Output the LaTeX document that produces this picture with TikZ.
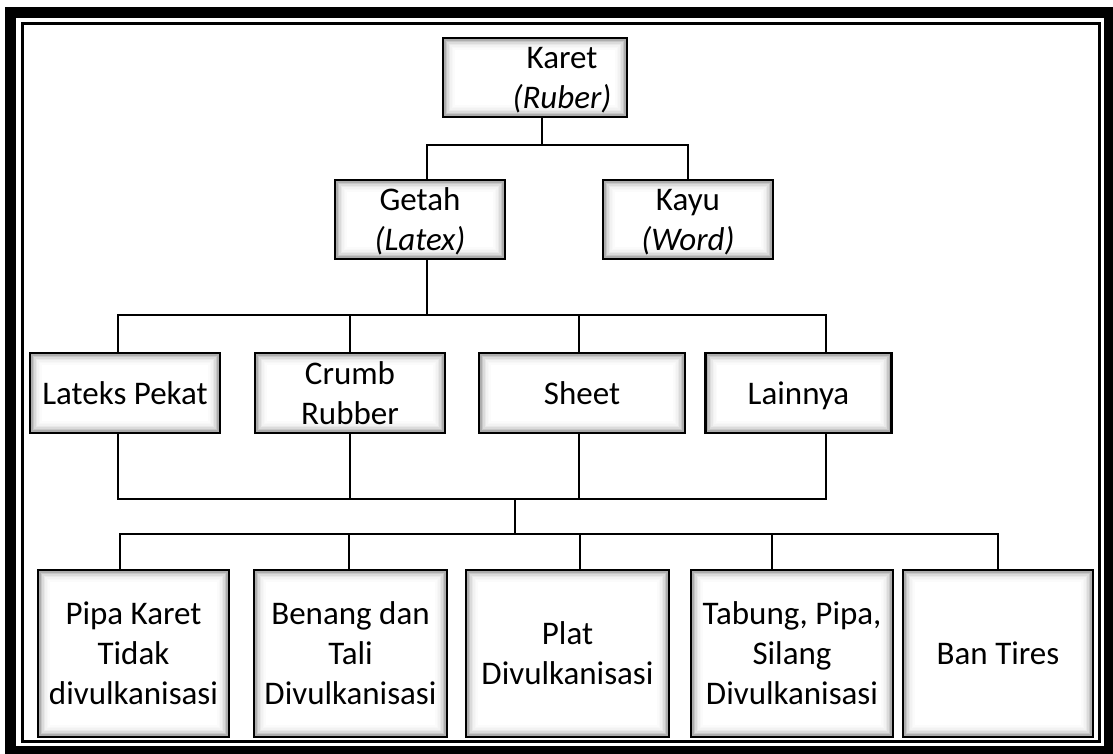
\documentclass[tikz,border=0pt]{standalone}
\usepackage{fontspec}
\setmainfont{Carlito}
\begin{document}
\begin{tikzpicture}[x=1pt,y=-1pt,
  wire/.style={line width=2pt},
  sz/.style 2 args={minimum width=#1pt, minimum height=#2pt},
  box/.style={draw, line width=2.6pt, fill=white, inner sep=0pt, align=center,
    text depth=0pt, font=\fontsize{33}{40}\selectfont,
    path picture={
      \foreach \i/\o in {1/0.32,2/0.22,3/0.14,4/0.09,5/0.05,6/0.03,7/0.015}{
        \draw[line width=1.5pt, draw opacity=\o]
          ([shift={(0.6pt+\i*1.5pt,-0.6pt-\i*1.5pt)}]path picture bounding box.north west)
          rectangle
          ([shift={(-0.6pt-\i*1.5pt,0.6pt+\i*1.5pt)}]path picture bounding box.south east);
      }
    }}
]
\useasboundingbox (0,0) rectangle (1113,753);

% double frame
\draw[line width=11pt] (10.5,12) rectangle (1109,751.5);
\draw[line width=3pt] (22,23) rectangle (1099,741);

% level 1 and 2
\node[box, sz={184}{79}] (karet) at (535,77.5)
  {\hspace*{54pt}Karet\\\hspace*{54pt}\textit{(Ruber)}};
\node[box, sz={170}{79}] (getah) at (420,219.5) {Getah\\\textit{(Latex)}};
\node[box, sz={170}{79}] (kayu)  at (688,219.5) {Kayu\\\textit{(Word)}};

% level 3
\node[box, sz={190}{80}] (lateks)  at (125,393) {Lateks Pekat};
\node[box, sz={190}{80}] (crumb)   at (350,393) {Crumb\\Rubber};
\node[box, sz={206}{80}] (sheet)   at (582,393) {Sheet};
\node[box, sz={186}{80}] (lainnya) at (798.5,393) {Lainnya};

% level 4
\node[box, sz={191}{167}] (pipa)   at (133.5,653.5) {Pipa Karet\\Tidak\\divulkanisasi};
\node[box, sz={193}{167}] (benang) at (350.5,653.5) {Benang dan\\Tali\\Divulkanisasi};
\node[box, sz={203}{167}] (plat)   at (567.5,653.5) {Plat\\Divulkanisasi};
\node[box, sz={202}{167}] (tabung) at (792,653.5) {Tabung, Pipa,\\Silang\\Divulkanisasi};
\node[box, sz={190}{167}] (ban)    at (998,653.5) {Ban Tires};

% junctions
\coordinate (j1) at (542,145);
\coordinate (j2) at (427,315);
\coordinate (j3) at (515,499);
\coordinate (j4) at (515,534);

% connectors
\draw[wire] ([xshift=7pt]karet.south) -- (j1);
\draw[wire] ([xshift=7pt]getah.north) |- (j1) -| (kayu.north);
\draw[wire] ([xshift=7pt]getah.south) -- (j2);
\draw[wire] ([xshift=-7pt]lateks.north) |- (j2) -| ([xshift=27.5pt]lainnya.north);
\draw[wire] (crumb.north) -- (crumb.north |- j2);
\draw[wire] ([xshift=-3pt]sheet.north) -- ([xshift=-3pt]sheet.north |- j2);
\draw[wire] ([xshift=-7pt]lateks.south) |- (j3) -| ([xshift=27.5pt]lainnya.south);
\draw[wire] (crumb.south) -- (crumb.south |- j3);
\draw[wire] ([xshift=-3pt]sheet.south) -- ([xshift=-3pt]sheet.south |- j3);
\draw[wire] (j3) -- (j4);
\draw[wire] ([xshift=-13.5pt]pipa.north) |- (j4) -| (ban.north);
\draw[wire] ([xshift=-1.5pt]benang.north) -- ([xshift=-1.5pt]benang.north |- j4);
\draw[wire] ([xshift=12.5pt]plat.north) -- ([xshift=12.5pt]plat.north |- j4);
\draw[wire] ([xshift=-20pt]tabung.north) -- ([xshift=-20pt]tabung.north |- j4);
\end{tikzpicture}
\end{document}
